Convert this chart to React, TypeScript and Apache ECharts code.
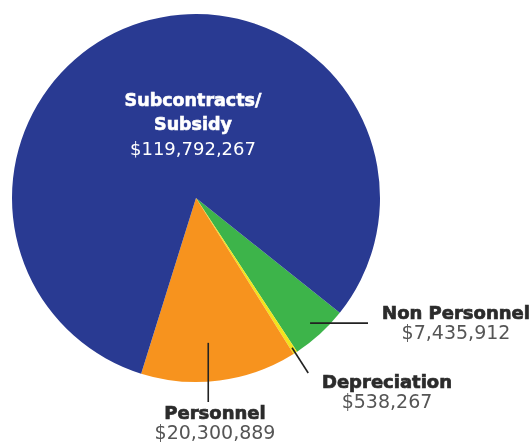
import React, { useEffect, useRef } from "react";
import * as echarts from "echarts";

const categories = ["Non Personnel", "Depreciation", "Personnel", "Subcontracts/\nSubsidy"];
const values = [7435912, 538267, 20300889, 119792267];
const colors = ["#3DB44A", "#F2E41C", "#F7931E", "#293A92"];

const fmt = (v: number) => "$" + v.toLocaleString("en-US");

export default function App() {
  const ref = useRef<HTMLDivElement>(null);
  useEffect(() => {
    document.body.style.margin = "0";
    const chart = echarts.init(ref.current!, null, { renderer: "svg" });

    const cx = 196;
    const cy = 198;
    const R = 184;
    const startAngle = -38.6;
    const total = values.reduce((a, b) => a + b, 0);
    // mid angle (degrees, math convention) of each slice, clockwise from startAngle
    const mids: number[] = [];
    let acc = startAngle;
    values.forEach((v) => {
      const span = (v / total) * 360;
      mids.push(acc - span / 2);
      acc -= span;
    });
    const pt = (i: number, f: number, da = 0) => {
      const a = ((mids[i] + da) * Math.PI) / 180;
      return [cx + R * f * Math.cos(a), cy - R * f * Math.sin(a)];
    };

    // leader lines: anchored inside each slice near its mid angle
    const np0 = pt(0, 0.92);
    const dp0 = pt(1, 0.967);
    const dp1 = pt(1, 1.13);
    const pe0 = pt(2, 0.79, -2.5);
    const leaders = [
      [np0, [368, np0[1]]],
      [dp0, dp1],
      [pe0, [pe0[0], 402]],
    ];

    const place: Record<number, { x: number; y: number }> = {
      0: { x: 456, y: 322 },
      1: { x: 387, y: 391 },
      2: { x: 215, y: 422 },
      3: { x: 193, y: 124 },
    };

    chart.setOption({
      animation: false,
      series: [
        {
          type: "pie",
          center: [cx, cy],
          radius: R,
          startAngle,
          clockwise: true,
          avoidLabelOverlap: false,
          z: 1,
          data: categories.map((c, i) => ({
            name: c,
            value: values[i],
            itemStyle: { color: colors[i] },
            label:
              i === 3
                ? { formatter: (p: any) => `{w|Subcontracts/}\n{w|Subsidy}\n{wv|${fmt(p.value)}}` }
                : undefined,
          })),
          label: {
            show: true,
            position: "outside",
            formatter: (p: any) => `{n|${p.name}}\n{v|${fmt(p.value)}}`,
            rich: {
              n: {
                fontFamily: "DejaVu Sans", fontWeight: "bold", fontSize: 18, color: "#2b2b2b",
                textBorderColor: "#2b2b2b", textBorderWidth: 0.7, lineHeight: 20, align: "center",
              },
              v: { fontFamily: "DejaVu Sans", fontWeight: "normal", fontSize: 19, color: "#555555", lineHeight: 20, align: "center" },
              w: {
                fontFamily: "DejaVu Sans", fontWeight: "bold", fontSize: 17.5, color: "#ffffff",
                textBorderColor: "#ffffff", textBorderWidth: 0.6, lineHeight: 24, align: "center",
              },
              wv: { fontFamily: "DejaVu Sans", fontWeight: "normal", fontSize: 18, color: "#ffffff", lineHeight: 24, align: "center" },
            },
          },
          labelLine: { show: false },
          labelLayout: (p: any) => {
            const L = place[p.dataIndex];
            return { x: L.x, y: L.y, align: "center", verticalAlign: "middle" };
          },
          emphasis: { disabled: true },
        },
      ],
      graphic: leaders.map((l) => ({
        type: "line",
        z: 100,
        shape: { x1: l[0][0], y1: l[0][1], x2: l[1][0], y2: l[1][1] },
        style: { stroke: "#222222", lineWidth: 1.6 },
      })),
    });
    return () => chart.dispose();
  }, []);
  return <div ref={ref} style={{ position: "fixed", left: 0, top: 0, width: 532, height: 444 }} />;
}
